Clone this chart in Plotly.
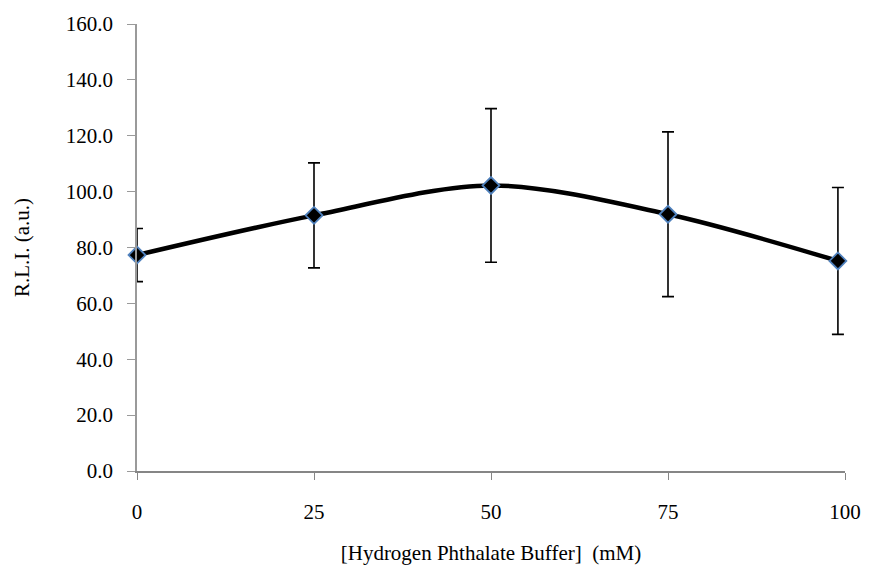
import plotly.graph_objects as go

buffer_mM = [0, 25, 50, 75, 99]
rli = [77.3, 91.5, 102.2, 91.9, 75.2]
rli_err = [9.5, 18.8, 27.5, 29.5, 26.3]
y_ticks = [0, 20, 40, 60, 80, 100, 120, 140, 160]
x_ticks = [0, 25, 50, 75, 100]

font_family = "Liberation Serif, Times New Roman, serif"

fig = go.Figure()
fig.add_trace(go.Scatter(
    x=buffer_mM, y=rli,
    mode="lines+markers",
    line=dict(color="black", width=4.5, shape="spline", smoothing=0.9),
    marker=dict(symbol="diamond", size=13, color="black",
                line=dict(color="#4f81bd", width=1.8)),
    error_y=dict(type="data", array=rli_err, visible=True,
                 color="black", thickness=1.6, width=6),
    cliponaxis=False,
    showlegend=False,
))

fig.update_layout(
    width=873, height=574,
    margin=dict(l=137, r=24, t=22, b=103),
    paper_bgcolor="white", plot_bgcolor="white",
    font=dict(family=font_family, size=21, color="black"),
    xaxis=dict(
        range=[0, 100], tickvals=x_ticks, ticktext=[str(v) for v in x_ticks],
        showgrid=False, zeroline=False,
        showline=True, linecolor="#868686", linewidth=1.5,
        ticks="outside", ticklen=7, tickcolor="#868686", tickwidth=1,
        ticklabelstandoff=14,
        title=dict(text="[Hydrogen Phthalate Buffer] \u00a0(mM)", standoff=22,
                   font=dict(family=font_family, size=21)),
    ),
    yaxis=dict(
        range=[0, 160], tickvals=y_ticks, tickformat=".1f",
        showgrid=False, zeroline=False,
        showline=True, linecolor="#9a9a9a", linewidth=1.5,
        ticks="outside", ticklen=8, tickcolor="#9a9a9a", tickwidth=1,
        ticklabelstandoff=10,
        title=dict(text="R.L.I. (a.u.)", standoff=30,
                   font=dict(family=font_family, size=21)),
    ),
)

fig.write_html("out.html")
